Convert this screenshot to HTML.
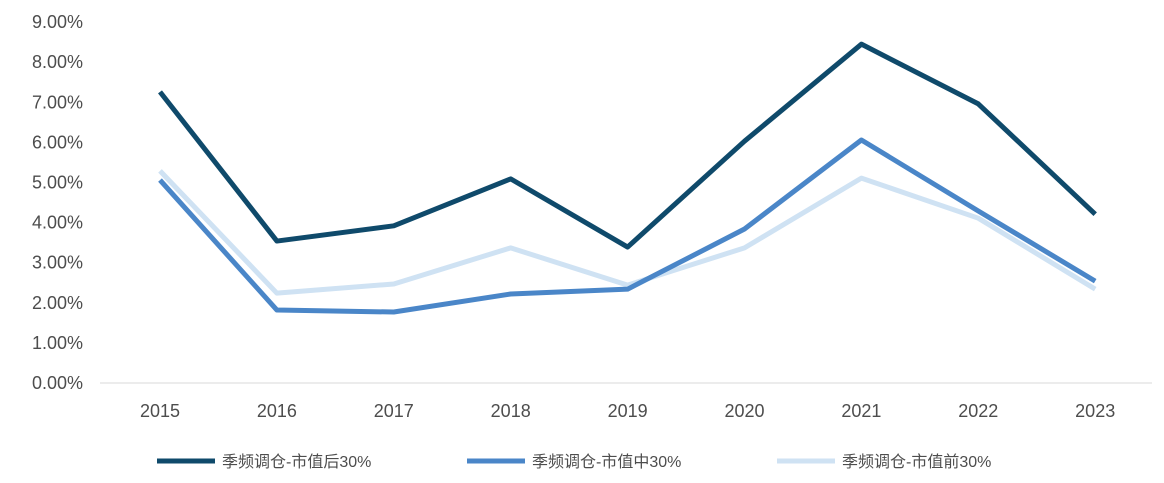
<!DOCTYPE html>
<html><head><meta charset="utf-8"><style>
body{margin:0;background:#fff;}
svg{display:block;font-family:"Liberation Sans","Noto Sans CJK SC",sans-serif;}
</style></head><body>
<svg id="chart" width="1164" height="483" viewBox="0 0 1164 483"></svg>
<script>
const categories=["2015","2016","2017","2018","2019","2020","2021","2022","2023"];
const seriesNames=["季频调仓-市值后30%","季频调仓-市值中30%","季频调仓-市值前30%"];
const seriesBack=[7.26,3.54,3.92,5.09,3.39,6.03,8.45,6.96,4.21];
const seriesMid=[5.06,1.82,1.77,2.22,2.34,3.84,6.06,4.29,2.54];
const seriesFront=[5.29,2.24,2.47,3.37,2.44,3.37,5.11,4.11,2.34];
const yTicks=[0,1,2,3,4,5,6,7,8,9];
const NS="http://www.w3.org/2000/svg";
const svg=document.getElementById('chart');
const y0=383,pxPer=40.1,x0=160,dx=116.9;
const xs=i=>x0+i*dx, ys=v=>y0-v*pxPer;
function mk(t,a){const e=document.createElementNS(NS,t);for(const k in a)e.setAttribute(k,a[k]);svg.appendChild(e);return e;}
yTicks.forEach(v=>{
  const t=mk('text',{x:83,y:ys(v)+6,'text-anchor':'end','font-size':18,fill:'#4d4d4d'});
  t.textContent=v.toFixed(2)+'%';
  
  
});
const ax=mk('line',{x1:100,x2:1152,y1:y0,y2:y0,stroke:'#d9d9d9','stroke-width':1});


categories.forEach((c,i)=>{
  const t=mk('text',{x:xs(i),y:417,'text-anchor':'middle','font-size':18,fill:'#4d4d4d'});
  t.textContent=c;
  
  
});
const data=[seriesFront,seriesMid,seriesBack];
const colors=["#cfe2f3","#4a86c8","#0f4a6b"];
const keys=['series-front-30','series-mid-30','series-back-30'];
data.forEach((d,si)=>{
  const p=mk('polyline',{points:d.map((v,i)=>xs(i)+','+ys(v)).join(' '),fill:'none',stroke:colors[si],'stroke-width':5,'stroke-linejoin':'round'});
  
  
});
const legX=[157,467,777];
const legC=["#0f4a6b","#4a86c8","#cfe2f3"];
seriesNames.forEach((n,i)=>{
  const l=mk('line',{x1:legX[i],x2:legX[i]+58,y1:461,y2:461,stroke:legC[i],'stroke-width':5});
  
  
  const t=mk('text',{x:legX[i]+65,y:467,'font-size':16,fill:'#4d4d4d'});
  t.textContent=n;
  
  
});
</script>
</body></html>
